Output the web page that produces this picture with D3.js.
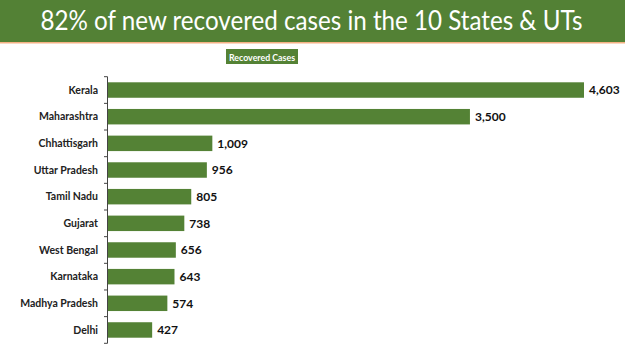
<!DOCTYPE html>
<html><head><meta charset="utf-8">
<script src="https://cdn.jsdelivr.net/npm/d3@7"></script>
<style>body{margin:0;background:#fff;}svg{display:block;}</style>
</head><body>
<script>
const title = "82% of new recovered cases in the 10 States & UTs";
const seriesName = "Recovered Cases";
const states = ["Kerala","Maharashtra","Chhattisgarh","Uttar Pradesh","Tamil Nadu","Gujarat","West Bengal","Karnataka","Madhya Pradesh","Delhi"];
const recovered = [4603,3500,1009,956,805,738,656,643,574,427];

const W = 625, H = 351;
const svg = d3.select("body").append("svg").attr("width", W).attr("height", H);
const green = "#548235";

svg.append("rect").attr("x",0).attr("y",0).attr("width",W).attr("height",42).attr("fill","#538135");
svg.append("rect").attr("x",0).attr("y",42).attr("width",W).attr("height",1.5).attr("fill","#f4b183");
svg.append("text").attr("x",W/2 - 1).attr("y",30).attr("text-anchor","middle")
  .attr("fill","#fff").attr("font-family","Lato, 'Open Sans', sans-serif").attr("font-size",26)
  .attr("textLength",542).attr("lengthAdjust","spacingAndGlyphs")
  .text(title);

// legend
const lg = svg.append("g");
lg.append("rect").attr("x",226).attr("y",49).attr("width",72).attr("height",15).attr("fill",green);
lg.append("text").attr("x",262).attr("y",60.5).attr("text-anchor","middle").attr("fill","#fff")
  .attr("font-family","Lato, sans-serif").attr("font-weight","bold").attr("font-size",10)
  .attr("textLength",66).attr("lengthAdjust","spacingAndGlyphs")
  .text(seriesName);

const x = d3.scaleLinear().domain([0, 4603]).range([108, 584]);
const y = d3.scaleBand().domain(states).range([76.7, 343.3]).paddingInner(0.42).paddingOuter(0.21);

const ax = svg.append("g");
ax.append("line").attr("x1",107.5).attr("x2",107.5).attr("y1",76.7).attr("y2",343.3).attr("stroke","#444").attr("stroke-width",1);
const step = y.step();
d3.range(states.length+1).forEach(i=>{
  const yy = 76.7 + i*step;
  ax.append("line").attr("x1",104).attr("x2",107.5).attr("y1",yy).attr("y2",yy).attr("stroke","#444");
});

svg.selectAll("rect.bar").data(states).join("rect").attr("class","bar")
  .attr("x", x(0)).attr("y", d=>y(d)).attr("height", y.bandwidth())
  .attr("width", (d,i)=>x(recovered[i])-x(0)).attr("fill", green);

svg.selectAll("text.cat").data(states).join("text").attr("class","cat")
  .attr("x", 98).attr("y", d=>y(d)+y.bandwidth()/2).attr("dy","0.35em")
  .attr("text-anchor","end").attr("font-family","Lato, sans-serif").attr("font-weight","bold")
  .attr("font-size",10.5).attr("fill","#222").text(d=>d);

const fmt = d3.format(",");
svg.selectAll("text.val").data(states).join("text").attr("class","val")
  .attr("x", (d,i)=>x(recovered[i])+5).attr("y", d=>y(d)+y.bandwidth()/2).attr("dy","0.37em")
  .attr("font-family","Lato, sans-serif").attr("font-weight","bold")
  .attr("font-size",12).attr("fill","#111").text((d,i)=>fmt(recovered[i]));
</script>
</body></html>
